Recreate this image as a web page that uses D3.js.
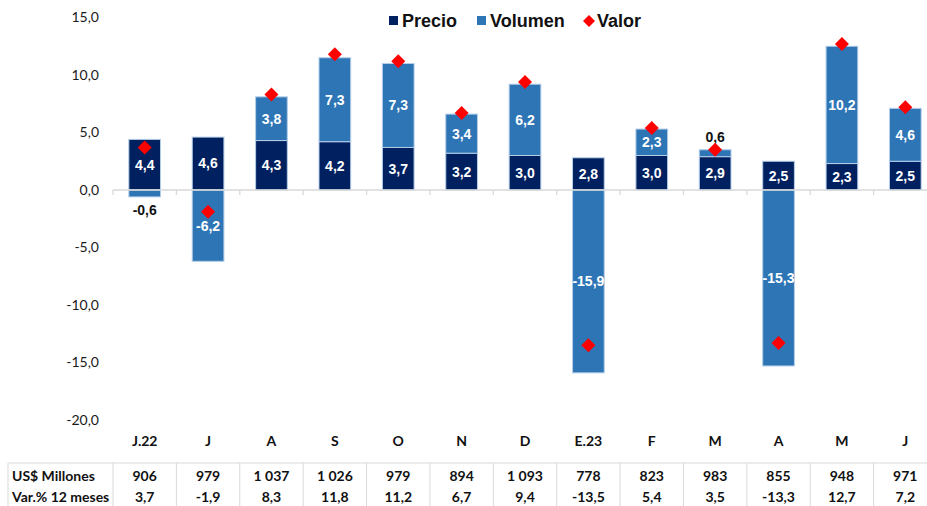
<!DOCTYPE html>
<html lang="es">
<head>
<meta charset="utf-8">
<title>Precio, Volumen y Valor</title>
<script src="https://cdn.jsdelivr.net/npm/d3@7/dist/d3.min.js"></script>
<style>
	body { margin: 0; background: white; }
	svg { display: block; }
	.tick-lbl { font-family: Lato, "Open Sans", sans-serif; font-size: 14px; fill: #1a1a1a; }
	.cat-lbl, .tbl { font-family: Lato, "Open Sans", sans-serif; font-size: 14px; font-weight: bold; fill: #111; }
	.dlbl { font-family: "Liberation Sans", Arial, sans-serif; font-size: 14px; font-weight: bold; }
	.leg { font-family: "Liberation Sans", Arial, sans-serif; font-size: 18px; font-weight: bold; fill: #111; }
</style>
</head>
<body>
<div id="chart"></div>
<script>
// months, jun-22 to jun-23
var categories = ["J.22","J","A","S","O","N","D","E.23","F","M","A","M","J"]
var precio  = [4.4, 4.6, 4.3, 4.2, 3.7, 3.2, 3.0, 2.8, 3.0, 2.9, 2.5, 2.3, 2.5]
var volumen = [-0.6, -6.2, 3.8, 7.3, 7.3, 3.4, 6.2, -15.9, 2.3, 0.6, -15.3, 10.2, 4.6]
var valor   = [3.7, -1.9, 8.3, 11.8, 11.2, 6.7, 9.4, -13.5, 5.4, 3.5, -13.3, 12.7, 7.2]
var millones = ["906","979","1 037","1 026","979","894","1 093","778","823","983","855","948","971"]
var yTicks = [15, 10, 5, 0, -5, -10, -15, -20]
var legendNames = ["Precio","Volumen","Valor"]

var W = 927, H = 506
var cPrecio = "#002060", cVol = "#2e75b6", cValor = "#ff0000"
var fmt = function(v) { return v.toFixed(1).replace(".", ",") }

var svg = d3.select("#chart").append("svg").attr("width", W).attr("height", H)

var x = d3.scaleBand().domain(d3.range(categories.length)).range([113, 937]).paddingInner(0.5).paddingOuter(0.25)
var y = d3.scaleLinear().domain([-20, 15]).range([420, 17.5])

// y axis labels (no line)
svg.append("g").selectAll("text").data(yTicks).enter().append("text")
	.attr("class","tick-lbl").attr("x", 99).attr("y", function(d) { return y(d) })
	.attr("dy","0.35em").attr("text-anchor","end").text(fmt)

// stacked rows: positives up from 0, negatives down from 0
var rows = categories.map(function(c, i) {
	var segs = [], pos = 0, neg = 0
	;[["p", precio[i]], ["v", volumen[i]]].forEach(function(s) {
		var v = s[1], y0, y1
		if (v >= 0) { y0 = pos; y1 = pos + v; pos = y1 } else { y0 = neg; y1 = neg + v; neg = y1 }
		segs.push({ key: s[0], v: v, y0: y0, y1: y1, i: i })
	})
	return segs
})
var segs = d3.merge(rows)

svg.append("g").selectAll("rect").data(segs).enter().append("rect")
	.attr("x", function(d) { return x(d.i) })
	.attr("width", x.bandwidth())
	.attr("y", function(d) { return y(Math.max(d.y0, d.y1)) })
	.attr("height", function(d) { return Math.abs(y(d.y0) - y(d.y1)) })
	.attr("fill", function(d) { return d.key == "p" ? cPrecio : cVol })
	.attr("stroke", "#b4cde8").attr("stroke-width", 1)

// zero line + ticks
var zl = svg.append("g").attr("stroke", "#d9d9d9").attr("stroke-width", 1.3)
zl.append("line").attr("x1", 113).attr("x2", W).attr("y1", y(0)).attr("y2", y(0))
zl.selectAll(".tk").data(d3.range(categories.length + 1)).enter().append("line")
	.attr("x1", function(d) { return 113 + d * x.step() }).attr("x2", function(d) { return 113 + d * x.step() })
	.attr("y1", y(0)).attr("y2", y(0) + 5)

// data labels
svg.append("g").selectAll("text").data(segs).enter().append("text")
	.attr("class","dlbl").attr("text-anchor","middle").attr("dy","0.35em")
	.attr("x", function(d) { return x(d.i) + x.bandwidth() / 2 })
	.attr("y", function(d) {
		if (Math.abs(d.v) < 1) return d.v < 0 ? y(d.y1) + 13 : y(d.y1) - 13
		return y((d.y0 + d.y1) / 2)
	})
	.attr("fill", function(d) { return Math.abs(d.v) < 1 ? "#111" : "white" })
	.text(function(d) { return fmt(d.v) })

// valor diamonds
svg.append("g").selectAll("path").data(valor).enter().append("path")
	.attr("d", "M0,-7L7,0L0,7L-7,0Z")
	.attr("transform", function(d, i) { return "translate(" + (x(i) + x.bandwidth() / 2) + "," + y(d) + ")" })
	.attr("fill", cValor)

// category labels
svg.append("g").selectAll("text").data(categories).enter().append("text")
	.attr("class","cat-lbl").attr("text-anchor","middle")
	.attr("x", function(d, i) { return x(i) + x.bandwidth() / 2 }).attr("y", 446).text(function(d) { return d })

// table below
var tb = svg.append("g")
var grid = tb.append("g").attr("stroke", "#d9d9d9").attr("stroke-width", 1)
grid.append("line").attr("x1", 8).attr("x2", W).attr("y1", 463).attr("y2", 463)
grid.selectAll(".v").data([8].concat(d3.range(categories.length + 1).map(function(d) { return 113 + d * x.step() }))).enter()
	.append("line").attr("x1", function(d) { return d }).attr("x2", function(d) { return d }).attr("y1", 463).attr("y2", H)
tb.append("text").attr("class","tbl").attr("x", 12).attr("y", 481).text("US$ Millones")
tb.append("text").attr("class","tbl").attr("x", 12).attr("y", 502).text("Var.% 12 meses")
tb.selectAll(".m").data(millones).enter().append("text").attr("class","tbl").attr("text-anchor","middle")
	.attr("x", function(d, i) { return x(i) + x.bandwidth() / 2 }).attr("y", 481).text(function(d) { return d })
tb.selectAll(".va").data(valor).enter().append("text").attr("class","tbl").attr("text-anchor","middle")
	.attr("x", function(d, i) { return x(i) + x.bandwidth() / 2 }).attr("y", 502).text(fmt)

// legend
var leg = svg.append("g")
var lx = [389, 477, 584]
leg.append("rect").attr("x", lx[0]).attr("y", 16).attr("width", 9).attr("height", 9).attr("fill", cPrecio)
leg.append("rect").attr("x", lx[1]).attr("y", 16).attr("width", 9).attr("height", 9).attr("fill", cVol)
leg.append("path").attr("d", "M0,-6L6,0L0,6L-6,0Z").attr("transform", "translate(" + (lx[2] + 5) + ",21)").attr("fill", cValor)
leg.selectAll("text").data(legendNames).enter().append("text").attr("class","leg")
	.attr("x", function(d, i) { return lx[i] + 13 }).attr("y", 27).text(function(d) { return d })
</script>
</body>
</html>
